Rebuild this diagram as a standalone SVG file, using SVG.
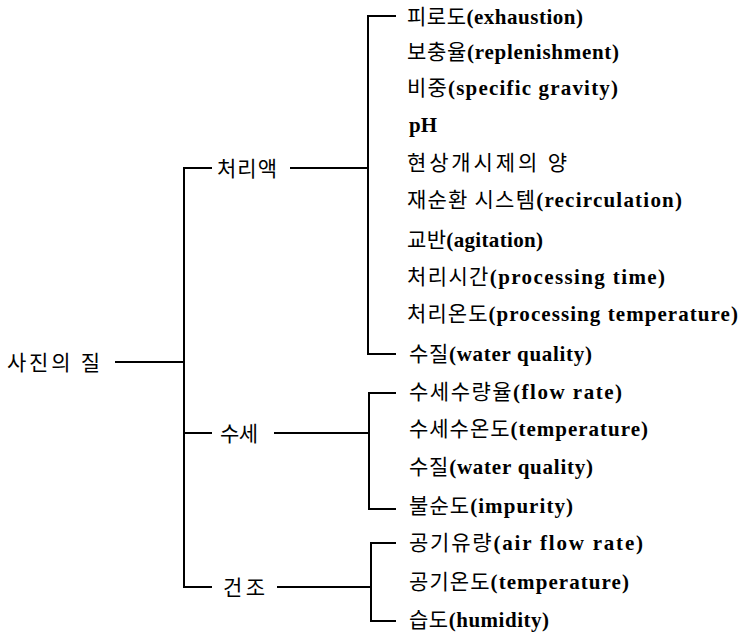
<svg xmlns="http://www.w3.org/2000/svg" width="741" height="633" viewBox="0 0 741 633">
<style>
text{font-family:"Liberation Serif","Noto Sans CJK KR",serif;font-size:21px;fill:#000}
.l{font-weight:bold}
.k{font-family:"Noto Sans CJK KR","Liberation Sans",sans-serif;font-size:21px}
#connectors path{fill:none;stroke:#000;stroke-width:2}
</style>
<rect width="741" height="633" fill="#fff"/>
<g id="connectors">
<path d="M115 362H184"/>
<path d="M212 168H184V587H212"/>
<path d="M184 433H212"/>
<path d="M290 168H368"/>
<path d="M274 433H369"/>
<path d="M277 587H371"/>
<path d="M396 16H368V354H396"/>
<path d="M396 393H369V509H396"/>
<path d="M396 543H371V621H396"/>
</g>
<g id="root"><text class="k" x="7" y="370" textLength="93" lengthAdjust="spacing">사진의 질</text></g>
<g id="n-processing"><text class="k" x="217" y="176" textLength="60" lengthAdjust="spacing">처리액</text></g>
<g id="n-washing"><text class="k" x="220" y="441" textLength="38" lengthAdjust="spacing">수세</text></g>
<g id="n-drying"><text class="k" x="223" y="595" textLength="42" lengthAdjust="spacing">건조</text></g>
<g id="i1"><text x="407" y="24" textLength="176" lengthAdjust="spacing"><tspan class="k">피로도</tspan><tspan class="l">(exhaustion)</tspan></text></g>
<g id="i2"><text x="407" y="59" textLength="212" lengthAdjust="spacing"><tspan class="k">보충율</tspan><tspan class="l">(replenishment)</tspan></text></g>
<g id="i3"><text x="407" y="95" textLength="211" lengthAdjust="spacing"><tspan class="k">비중</tspan><tspan class="l">(specific gravity)</tspan></text></g>
<g id="i4"><text x="409" y="132"><tspan class="l">pH</tspan></text></g>
<g id="i5"><text x="407" y="170" textLength="160" lengthAdjust="spacing"><tspan class="k">현상개시제의 양</tspan></text></g>
<g id="i6"><text x="407" y="207" textLength="275" lengthAdjust="spacing"><tspan class="k">재순환 시스템</tspan><tspan class="l">(recirculation)</tspan></text></g>
<g id="i7"><text x="407" y="247" textLength="136" lengthAdjust="spacing"><tspan class="k">교반</tspan><tspan class="l">(agitation)</tspan></text></g>
<g id="i8"><text x="407" y="284" textLength="258" lengthAdjust="spacing"><tspan class="k">처리시간</tspan><tspan class="l">(processing time)</tspan></text></g>
<g id="i9"><text x="407" y="321" textLength="331" lengthAdjust="spacing"><tspan class="k">처리온도</tspan><tspan class="l">(processing temperature)</tspan></text></g>
<g id="i10"><text x="409" y="361" textLength="183" lengthAdjust="spacing"><tspan class="k">수질</tspan><tspan class="l">(water quality)</tspan></text></g>
<g id="w1"><text x="409" y="399" textLength="213" lengthAdjust="spacing"><tspan class="k">수세수량율</tspan><tspan class="l">(flow rate)</tspan></text></g>
<g id="w2"><text x="409" y="436" textLength="239" lengthAdjust="spacing"><tspan class="k">수세수온도</tspan><tspan class="l">(temperature)</tspan></text></g>
<g id="w3"><text x="409" y="474" textLength="184" lengthAdjust="spacing"><tspan class="k">수질</tspan><tspan class="l">(water quality)</tspan></text></g>
<g id="w4"><text x="409" y="513" textLength="164" lengthAdjust="spacing"><tspan class="k">불순도</tspan><tspan class="l">(impurity)</tspan></text></g>
<g id="d1"><text x="409" y="550" textLength="234" lengthAdjust="spacing"><tspan class="k">공기유량</tspan><tspan class="l">(air flow rate)</tspan></text></g>
<g id="d2"><text x="409" y="589" textLength="220" lengthAdjust="spacing"><tspan class="k">공기온도</tspan><tspan class="l">(temperature)</tspan></text></g>
<g id="d3"><text x="409" y="627" textLength="140" lengthAdjust="spacing"><tspan class="k">습도</tspan><tspan class="l">(humidity)</tspan></text></g>
</svg>
